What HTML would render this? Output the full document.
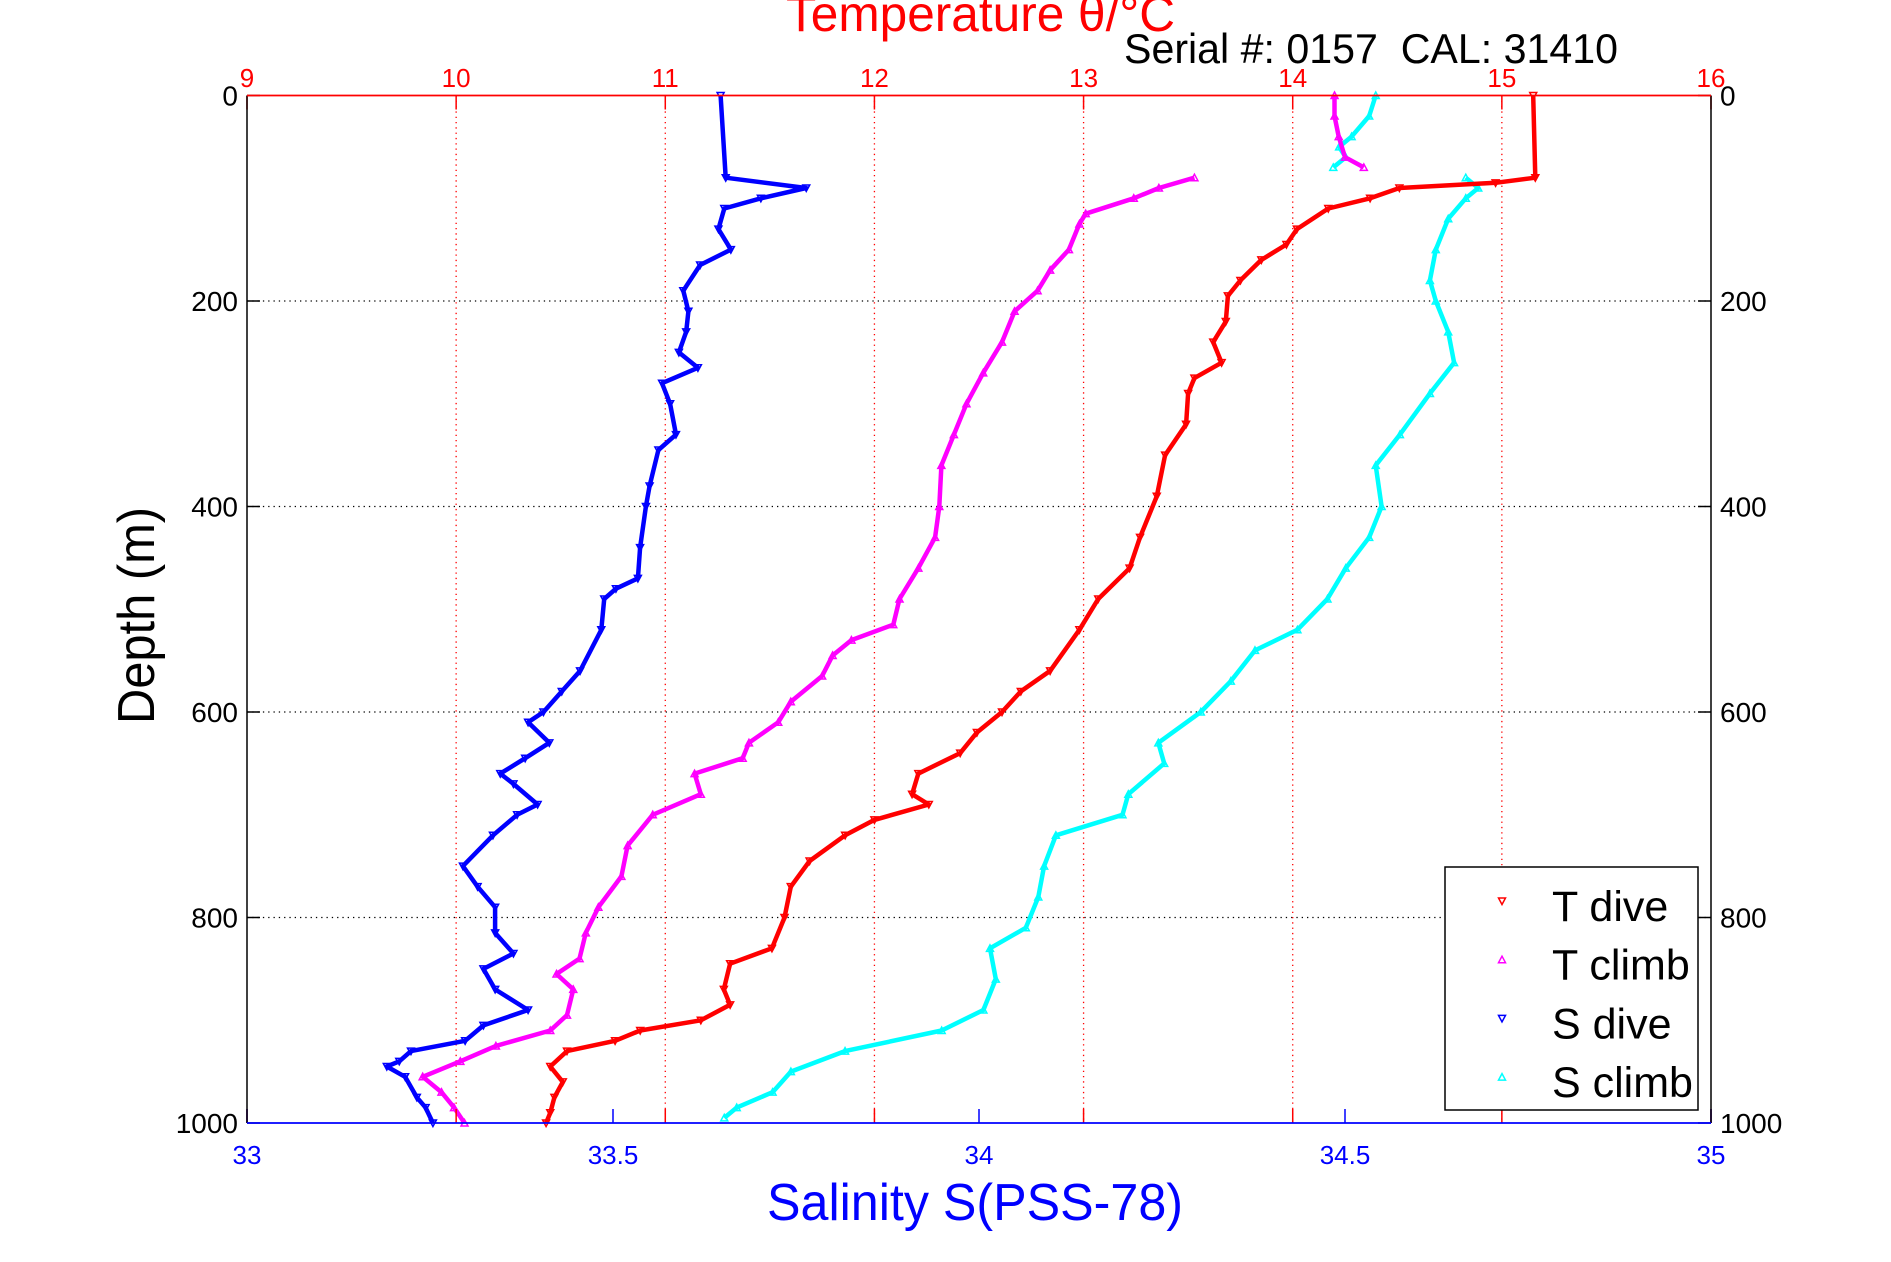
<!DOCTYPE html>
<html><head><meta charset="utf-8"><style>
html,body{margin:0;padding:0;background:#fff;}
svg{display:block;font-family:"Liberation Sans",Arial,sans-serif;}
</style></head><body>
<svg id="chart" width="1891" height="1262" viewBox="0 0 1891 1262">
<rect x="0" y="0" width="1891" height="1262" fill="#fff"/>
<g id="grid"></g>
<g id="series"></g>
<g id="axes"></g>
<text x="786" y="31" font-size="50" fill="#f00" textLength="389" lengthAdjust="spacingAndGlyphs">Temperature θ/°C</text>
<text x="1124" y="63" font-size="42" fill="#000" textLength="494" lengthAdjust="spacingAndGlyphs">Serial #: 0157&#160; CAL: 31410</text>
<text x="767" y="1220" font-size="52" fill="#00f" textLength="416" lengthAdjust="spacingAndGlyphs">Salinity S(PSS-78)</text>
<text transform="translate(154,724) rotate(-90)" x="0" y="0" font-size="52" fill="#000" textLength="217" lengthAdjust="spacingAndGlyphs">Depth (m)</text>
<g id="legend"></g>
</svg>
<script>
// ---- data ----
const sDiveDepth = [0,80,90,100,110,130,150,165,190,210,230,250,265,280,300,330,345,380,400,440,470,480,490,520,560,580,600,610,630,645,660,670,690,700,720,750,770,790,815,835,850,870,890,905,920,930,940,945,955,975,985,1000];
const sDiveVal = [33.647,33.654,33.764,33.702,33.652,33.644,33.661,33.619,33.596,33.603,33.600,33.590,33.616,33.567,33.578,33.586,33.562,33.550,33.545,33.537,33.534,33.504,33.488,33.484,33.455,33.430,33.405,33.384,33.413,33.380,33.346,33.364,33.397,33.369,33.336,33.295,33.315,33.339,33.339,33.364,33.323,33.339,33.384,33.323,33.298,33.224,33.208,33.191,33.216,33.232,33.244,33.254];
const tDiveDepth = [0,80,85,90,100,110,130,145,160,180,195,220,240,260,275,290,320,350,390,430,460,490,520,560,580,600,620,640,660,680,690,705,720,745,770,800,830,845,870,885,900,910,920,930,945,960,975,990,1000];
const tDiveVal = [15.15,15.16,14.97,14.51,14.37,14.17,14.02,13.97,13.85,13.75,13.69,13.68,13.62,13.66,13.53,13.50,13.49,13.39,13.35,13.27,13.22,13.07,12.98,12.84,12.70,12.61,12.49,12.41,12.21,12.18,12.26,12.00,11.86,11.69,11.60,11.57,11.51,11.31,11.28,11.31,11.17,10.88,10.76,10.53,10.45,10.51,10.47,10.45,10.43];
const tClimbDepth = [0,20,40,60,70,80,90,100,115,125,150,170,190,210,240,270,300,330,360,400,430,460,490,515,530,545,565,590,610,630,645,660,680,700,730,760,790,815,840,855,870,895,910,925,940,955,970,985,1000];
const tClimbVal = [14.20,14.20,14.22,14.25,14.34,13.53,13.36,13.24,13.01,12.98,12.93,12.84,12.78,12.67,12.61,12.52,12.44,12.38,12.32,12.31,12.29,12.21,12.12,12.09,11.89,11.80,11.75,11.60,11.54,11.40,11.37,11.14,11.17,10.94,10.82,10.79,10.68,10.62,10.59,10.48,10.56,10.53,10.45,10.19,10.02,9.84,9.93,9.99,10.04];
const sClimbDepth = [0,20,40,50,60,70,80,90,100,120,150,180,200,230,260,290,330,360,400,430,460,490,520,540,570,600,630,650,680,700,720,750,780,810,830,860,890,910,930,950,970,985,995];
const sClimbVal = [34.542,34.533,34.509,34.492,34.501,34.484,34.665,34.682,34.665,34.641,34.624,34.616,34.624,34.641,34.649,34.616,34.575,34.542,34.550,34.533,34.501,34.476,34.435,34.377,34.344,34.303,34.245,34.253,34.204,34.196,34.105,34.089,34.081,34.064,34.015,34.023,34.006,33.949,33.817,33.743,33.718,33.669,33.652];
const tTicks = [9,10,11,12,13,14,15,16];
const sTicks = [33,33.5,34,34.5,35];
const dTicks = [0,200,400,600,800,1000];
const legendLabels = ["T dive","T climb","S dive","S climb"];

// ---- axes ----
const X0=247, X1=1711, Y0=95.5, Y1=1123;
const xT = t => X0 + (t-9)/7*(X1-X0);
const xS = s => X0 + (s-33)/2*(X1-X0);
const yD = d => Y0 + d/1000*(Y1-Y0);
const NS='http://www.w3.org/2000/svg';
function mk(tag, attrs, parent, txt){const e=document.createElementNS(NS,tag);for(const k in attrs)e.setAttribute(k,attrs[k]);if(txt!==undefined)e.textContent=txt;parent.appendChild(e);return e;}
const grid=document.getElementById('grid'), axes=document.getElementById('axes'), ser=document.getElementById('series'), leg=document.getElementById('legend');

dTicks.forEach(d=>{
  if(d>0&&d<1000){const g=mk('line',{x1:X0,x2:X1,y1:yD(d),y2:yD(d),stroke:'#000','stroke-width':1.3,'stroke-dasharray':'1.3 4'},grid);
  
  }
  mk('line',{x1:X0,x2:X0+13,y1:yD(d),y2:yD(d),stroke:'#000','stroke-width':1.5},axes);
  mk('line',{x1:X1-13,x2:X1,y1:yD(d),y2:yD(d),stroke:'#000','stroke-width':1.5},axes);
  const l=mk('text',{x:238,y:yD(d)+10,'font-size':28,'text-anchor':'end',fill:'#000'},axes,String(d));
  
  
  const r=mk('text',{x:1720,y:yD(d)+10,'font-size':28,fill:'#000'},axes,String(d));
  
  
});
tTicks.forEach(t=>{
  const x=xT(t);
  if(t>9&&t<16){const g=mk('line',{x1:x,x2:x,y1:Y0,y2:Y1,stroke:'#f00','stroke-width':1.3,'stroke-dasharray':'1.3 4'},grid);
  
  }
  mk('line',{x1:x,x2:x,y1:Y0,y2:Y0+14,stroke:'#f00','stroke-width':1.5},axes);
  mk('line',{x1:x,x2:x,y1:Y1-14,y2:Y1,stroke:'#f00','stroke-width':1.5},axes);
  const l=mk('text',{x:x,y:87,'font-size':26,'text-anchor':'middle',fill:'#f00'},axes,String(t));
  
  
});
sTicks.forEach(s=>{
  const x=xS(s);
  mk('line',{x1:x,x2:x,y1:Y1-14,y2:Y1,stroke:'#00f','stroke-width':1.5},axes);
  const l=mk('text',{x:x,y:1164,'font-size':26,'text-anchor':'middle',fill:'#00f'},axes,String(s));
  
  
});
mk('line',{x1:X0,x2:X0,y1:Y0,y2:Y1,stroke:'#000','stroke-width':1.5},axes);
mk('line',{x1:X1,x2:X1,y1:Y0,y2:Y1,stroke:'#000','stroke-width':1.5},axes);
mk('line',{x1:X0,x2:X1,y1:Y0,y2:Y0,stroke:'#f00','stroke-width':1.8},axes);
mk('line',{x1:X0,x2:X1,y1:Y1,y2:Y1,stroke:'#00f','stroke-width':1.8},axes);

// ---- series ----
function tri(x,y,down,c,p){
  const pts = down ? `${x-3.5},${y-3} ${x+3.5},${y-3} ${x},${y+3.5}` : `${x-3.5},${y+3} ${x+3.5},${y+3} ${x},${y-3.5}`;
  return mk('polygon',{points:pts,fill:'none',stroke:c,'stroke-width':1.5},p);
}
function drawSeries(depths, vals, xf, color, down, name){
  const g=mk('g',{},ser);
  
  
  let seg=[];
  const flush=()=>{ if(seg.length>1) mk('polyline',{points:seg.join(' '),fill:'none',stroke:color,'stroke-width':4.5,'stroke-linejoin':'round'},g); seg=[]; };
  depths.forEach((d,i)=>{
    const x=xf(vals[i]), y=yD(d);
    if(i>0 && Math.abs(x-xf(vals[i-1]))>100) flush();
    seg.push(x.toFixed(1)+','+y.toFixed(1));
  });
  flush();
  depths.forEach((d,i)=>{
    const m=tri(xf(vals[i]),yD(d),down,color,g);
    
    
  });
}
drawSeries(sClimbDepth,sClimbVal,xS,'#0ff',false,'s-climb-series');
drawSeries(tClimbDepth,tClimbVal,xT,'#f0f',false,'t-climb-series');
drawSeries(tDiveDepth,tDiveVal,xT,'#f00',true,'t-dive-series');
drawSeries(sDiveDepth,sDiveVal,xS,'#00f',true,'s-dive-series');

// ---- legend ----
mk('rect',{x:1445,y:867,width:253,height:243,fill:'#fff',stroke:'#000','stroke-width':1.5},leg);
const legColors=['#f00','#f0f','#00f','#0ff'];
const legDown=[true,false,true,false];
legendLabels.forEach((lab,i)=>{
  const by=921+i*58.7;
  const m=tri(1502,by-20,legDown[i],legColors[i],leg);
  
  
  const t=mk('text',{x:1552,y:by,'font-size':43,fill:'#000'},leg,lab);
  
  
});
</script>
</body></html>
